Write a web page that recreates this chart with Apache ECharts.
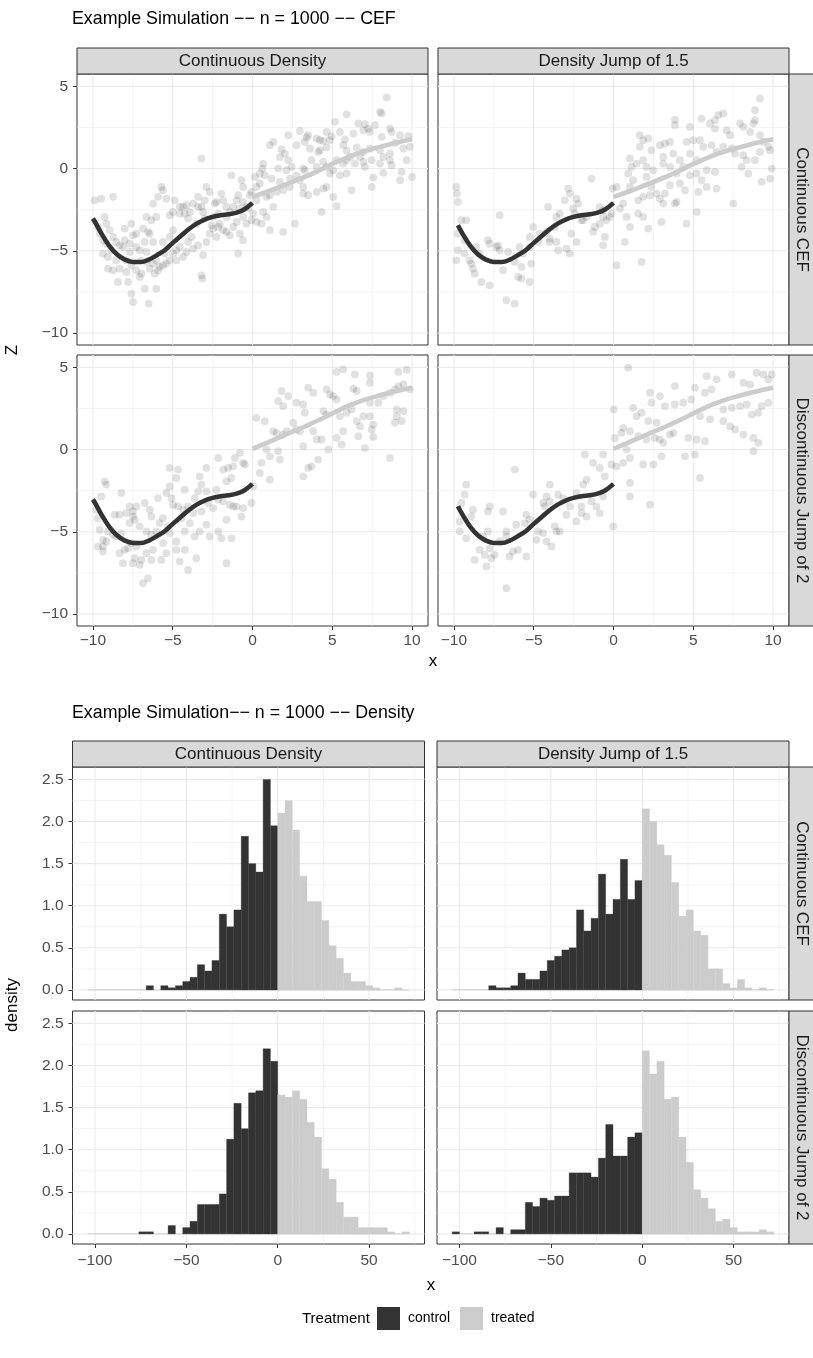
<!DOCTYPE html>
<html><head><meta charset="utf-8">
<script src="https://cdn.jsdelivr.net/npm/echarts@6/dist/echarts.min.js"></script>
<style>html,body{margin:0;padding:0;background:#fff}#c{width:813px;height:1358px}</style>
</head><body><div id="c"></div>
<script>
// ---------------- DATA ----------------
const colLabels = ['Continuous Density', 'Density Jump of 1.5'];
const rowLabels = ['Continuous CEF', 'Discontinuous Jump of 2'];
const title1 = 'Example Simulation \u2212\u2212 n = 1000 \u2212\u2212 CEF';
const title2 = 'Example Simulation\u2212\u2212 n = 1000 \u2212\u2212 Density';
const legendTitle = 'Treatment';
const groups = ['control', 'treated'];

const cefXTicks = [-10, -5, 0, 5, 10];
const cefXMinor = [-7.5, -2.5, 2.5, 7.5];
const cefYTicks = [-10, -5, 0, 5];
const cefYMinor = [-7.5, -2.5, 2.5];
const histXTicks = [-100, -50, 0, 50];
const histXMinor = [-75, -25, 25, 75];
const histYTicks = [0, 0.5, 1, 1.5, 2, 2.5];
const histYMinor = [0.25, 0.75, 1.25, 1.75, 2.25];

// CEF curves
const ctrlCurveX = [-10,-9.75,-9.5,-9,-8.5,-8,-7.5,-7,-6.5,-6,-5.5,-5,-4.5,-4,-3.5,-3,-2.5,-2,-1.5,-1,-0.5,0];
const ctrlCurveY = [-3.04,-3.45,-3.9,-4.67,-5.21,-5.54,-5.68,-5.68,-5.54,-5.27,-4.97,-4.52,-4.1,-3.69,-3.35,-3.1,-2.94,-2.84,-2.78,-2.68,-2.47,-2.09];
const trtCurveX = [0,1,2,3,4,5,6,7,8,9,10];
const trtCurveYCont = [-1.72,-1.38,-1.0,-0.62,-0.2,0.28,0.7,1.05,1.32,1.57,1.78];
const trtCurveYDisc = [0.04,0.45,0.88,1.28,1.72,2.2,2.65,3.02,3.3,3.55,3.76];

// scatter points [x, z]
const ptsContCEF_ContDens = [[8.41,4.32],[7.99,3.45],[8.1,3.35],[5.9,3.3],[5.17,2.84],[6.63,2.74],[7.05,2.7],[7.68,2.64],[2.97,2.29],[2.24,2.03],[3.39,1.89],[4.23,1.72],[4.44,1.68],[4.96,1.97],[5.48,2.23],[6.32,2.13],[6.95,2.33],[8.62,2.43],[8.72,2.23],[9.25,2.03],[9.77,1.97],[8.1,1.93],[1.09,1.42],[1.3,1.62],[1.82,1.16],[2.76,1.42],[3.6,1.22],[4.23,1.12],[4.64,1.28],[5.69,1.42],[5.9,1.08],[6.53,1.28],[6.95,1.01],[7.36,1.22],[7.99,1.12],[8.62,0.91],[9.67,0.51],[10,-0.51],[9.25,-0.71],[9.35,-0.2],[8.72,0.2],[8.2,-0.26],[7.57,-0.55],[7.47,-1.12],[7.05,0.1],[6.42,0.3],[6.21,-1.32],[5.48,-0.41],[5.06,-0.1],[4.44,-1.22],[4.64,-1.12],[5.06,-1.72],[5.27,-2.29],[4.33,-2.64],[3.49,-1.62],[3.18,0],[3.28,-0.1],[2.76,-0.41],[2.13,-0.1],[1.61,0],[1.19,-0.61],[0.67,0.3],[0.63,0],[0.77,-0.41],[0.46,-0.91],[0.25,-1.12],[1.51,-1.42],[1.92,-1.32],[2.34,-1.12],[1.09,-1.62],
[-0.17,-1.62],[-0.06,-1.42],[-0.59,-1.12],[-0.69,-0.71],[-1.32,-0.41],[-1.95,-1.52],[-2.36,-2.13],[-2.26,-2.03],[-2.89,-1.12],[-2.68,-1.42],[-3.41,-1.72],[-3.2,0.61],[-3.41,-2.33],[-3.93,-2.64],[-4.35,-2.33],[-4.87,-1.93],[-5.4,-1.83],[-5.71,-1.12],[-5.92,-1.72],[-6.23,-2.13],[-5.19,-2.84],[-4.98,-2.64],[-4.56,-2.74],[-4.04,-3.04],[-3.51,-3.35],[-2.99,-3.04],[-2.57,-3.45],[-2.05,-3.35],[-1.63,-2.94],[-1,-3.25],[-0.59,-2.94],[-0.06,-3.14],[0.25,-3.25],[0.56,-3.35],[1.09,-3.75],[1.92,-3.85],[2.66,-3.35],[-0.79,-3.96],[-0.59,-4.36],[-0.9,-5.17],[-1.42,-4.06],[-2.26,-4.16],[-2.15,-3.55],[-2.89,-4.46],[-3.1,-5.27],[-3.2,-6.49],[-3.14,-6.69],[-3.72,-4.87],[-4.14,-5.07],[-4.35,-5.38],[-4.77,-4.97],[-5.19,-4.16],[-4.98,-3.75],[-5.61,-4.46],[-6.44,-3.96],[-6.55,-3.85],[-6.23,-4.46],[-6.76,-4.46],[-7.28,-4.77],[-7.59,-3.35],[-8.01,-3.65],[-8.74,-1.72],[-9.48,-1.83],[-9.9,-1.93],[-9.16,-3.35],[-8.95,-3.75],[-9.37,-5.17],[-9.06,-5.38],[-8.33,-4.67],[-8.12,-4.77],[-8.54,-5.58],[-8.33,-6.09],[-7.91,-6.29],[-7.8,-6.9],[-8.43,-6.9],[-7.59,-7.61],[-7.49,-8.11],[-6.97,-6.39],[-6.76,-7.3],[-6.51,-8.21],[-6.03,-7.3],[-5.92,-6.19],[-5.82,-5.98],[-6.23,-5.78],[-5.4,-5.78],[-5.19,-5.58],[-6.65,-5.68],[-6.97,-5.58],[-6.03,-5.58],[-4.77,-5.58],[-9.06,-6.09],[-8.74,-6.19],
[3.28,1.62],[3.49,2.03],[4.02,1.83],[4.64,2.23],[4.85,1.72],[5.79,1.77],[7.36,2.23],[7.26,2.43],[8.93,1.56],[9.46,1.22],[9.87,1.32],[8.2,0.71],[7.47,0.51],[6.74,0.71],[6.95,0.41],[6.11,0.71],[5.27,0.51],[5.69,0.3],[4.44,0.41],[4.64,0.1],[4.85,-0.3],[3.7,0.51],[4.02,0.1],[2.24,0.51],[2.45,0.1],[1.72,0.71],[2.03,0.91],[0.46,-0.3],[0.15,-0.51],[2.97,-0.71],[3.18,-1.12],[1.72,-0.81],[2.34,-0.61],[4.02,-1.42],[3.18,-1.52],[5.9,-0.3],[5.9,0.5],[4.12,1.01],[7.99,0.3],[8.62,0.51],
[-5.61,-1.32],[-4.56,-2.33],[-4.25,-2.74],[-4.14,-2.23],[-3.72,-2.13],[-3.2,-2.33],[-2.99,-1.93],[-1.84,-1.93],[-1.63,-2.33],[-1.21,-2.33],[-1,-1.93],[-0.59,-2.03],[-0.38,-2.33],[-0.9,-1.62],[-3.1,-2.64],[-2.47,-2.94],[-2.15,-2.74],[-1.42,-2.64],[-0.79,-2.43],[-0.27,-2.43],[0.04,-2.74],[0.67,-2.64],[0.88,-2.94],[0.25,-1.93],[0.88,-1.72],[1.3,-2.33],
[-6.65,-2.94],[-6.34,-3.14],[-6.03,-2.94],[-6.86,-3.65],[-7.28,-3.96],[-7.49,-4.06],[-7.7,-4.57],[-8.01,-4.36],[-8.74,-4.16],[-8.54,-4.46],[-9.37,-4.36],[-9.16,-4.57],[-8.85,-4.97],[-9.58,-3.96],[-9.69,-3.55],[-9.27,-2.94],[-7.07,-4.97],[-6.65,-5.07],[-7.7,-5.07],[-7.91,-5.58],[-7.59,-5.88],[-7.28,-6.19],[-7.07,-6.59],[-6.44,-6.09],[-6.13,-6.39],[-5.61,-5.88],[-5.5,-5.17],[-4.98,-5.17],[-4.56,-4.77],[-4.04,-4.46],[-3.83,-4.16],[-3.41,-4.67],[-2.68,-3.96],[-2.47,-3.65],[-1.84,-3.75],[-1.63,-3.85],[-1.21,-3.55],[-0.38,-3.35]];

const ptsContCEF_DensJump = [[9.18,4.26],[8.87,3.55],[8.87,2.94],[8.77,2.74],[6.88,3.35],[6.57,3.25],[6.36,2.94],[5.52,3.04],[3.85,2.98],[3.85,2.64],[4.79,2.54],[6.05,2.74],[6.36,2.43],[7.09,2.33],[7.3,2.03],[7.93,2.74],[8.14,2.54],[8.56,2.23],[9.18,2.03],[9.39,1.62],[9.71,1.32],[9.81,1.12],[1.65,2.03],[1.86,1.72],[2.18,1.83],[1.65,1.32],[2.38,1.12],[2.91,1.42],[3.22,1.52],[3.54,1.62],[4.58,1.62],[5,1.72],[5.42,1.72],[5.63,1.32],[6.15,1.42],[6.46,1.01],[6.88,1.32],[7.41,1.22],[7.62,0.91],[8.14,0.81],[8.35,0.51],[8.87,0.51],[9.18,1.01],[9.92,0],[9.81,-0.61],[9.29,-0.81],[8.45,-0.3],[8.03,0.1],[7.51,-2.13],[6.36,-0.2],[5.84,-0.1],[5.52,-0.71],[5.84,-1.12],[5.31,-1.42],[6.46,-1.22],[5.21,-2.64],[4.58,-3.35],[4.16,-0.91],[4.48,-1.32],[3.85,-2.13],[3.95,-2.03],[3.12,-2.13],[2.91,-1.83],[3.54,-1.01],[3.22,-1.52],[2.07,-0.51],[2.38,-1.12],[2.7,-1.52],[1.86,-1.72],[1.55,-1.93],[2.28,-1.62],[1.55,-2.74],[1.86,-2.94],[0.82,-2.94],[1.03,-3.55],[0.71,-4.46],[0.19,-5.88],[1.76,-5.68],[2.18,-3.65],[3.01,-3.25],[0.4,-2.43],[0.61,-2.13],[1.03,-1.12],[1.23,-0.71],[0.92,-0.3],[1.13,0.1],[1.03,0.61],[1.44,0.3],[1.86,0.51],[2.07,0.1],[2.49,-0.1],[3.12,0.3],[3.54,0.1],[3.95,-0.3],[4.37,0.1],[4.79,-0.41],[5.21,-0.3],[3.12,0.71],[3.75,0.91],[4.16,0.51],[4.79,0.91],[5.21,0.51],[0.19,-1.12],[-0.06,-1.22],
[-1.38,-0.61],[-2.85,-1.22],[-2.74,-1.52],[-3.05,-1.93],[-2.32,-1.83],[-2.22,-2.13],[-2.53,-2.43],[-4.1,-2.33],[-3.37,-2.74],[-3.58,-2.94],[-2.01,-3.14],[-1.69,-2.94],[-1.17,-3.55],[-0.86,-3.35],[-0.65,-2.94],[-0.44,-3.14],[-0.23,-2.94],[-0.13,-2.74],[-0.54,-4.16],[-0.65,-4.67],[-1.28,-3.85],[-2.64,-3.96],[-2.32,-4.46],[-2.95,-4.87],[-3.47,-4.97],[-3.58,-4.46],[-4,-4.46],[-3.68,-3.55],[-4.62,-3.96],[-4.73,-4.46],[-5.04,-3.55],[-5.25,-4.16],[-5.15,-5.78],[-5.67,-5.17],[-5.77,-5.98],[-5.25,-6.9],[-5.98,-6.59],[-5.77,-6.69],[-6.19,-5.68],[-6.61,-5.07],[-6.72,-8.01],[-6.19,-8.21],[-6.92,-6.19],[-7.13,-4.97],[-7.24,-4.67],[-7.87,-4.36],[-7.76,-4.57],[-7.13,-2.84],[-8.28,-6.9],[-7.76,-7.1],[-8.81,-6.09],[-8.7,-6.39],[-9.02,-5.58],[-8.91,-5.78],[-9.33,-5.17],[-9.85,-5.58],[-9.75,-4.97],[-9.85,-1.12],[-9.81,-1.52],[-9.75,-2.03],[-9.75,-3.96],[-9.33,-4.36],[-9.23,-3.14],[-9.54,-3.14],[-8.39,-5.17],[-8.6,-4.77],[-7.34,-4.77],[-5.88,-4.77],[-5.25,-4.77],[-4.2,-3.85],[-4,-4.26],[-2.74,-5.17],[-1.9,-3.14],[-2.43,-2.74],[-0.86,-2.33],[-0.65,-2.54]];

const ptsDiscCEF_ContDens = [[5.69,4.88],[5.27,4.72],[6.42,4.57],[7.36,4.51],[9.14,4.72],[9.67,4.84],[7.36,4.07],[6.32,3.7],[6.53,3.56],[4.64,3.66],[4.85,3.35],[5.06,3.25],[5.27,3.05],[3.49,3.76],[3.81,3.46],[1.82,3.56],[2.24,3.25],[2.76,2.85],[1.61,2.95],[1.92,2.64],[3.18,2.74],[3.28,2.24],[4.44,2.34],[4.64,2.13],[5.48,2.03],[5.9,2.24],[6.21,2.44],[6.53,1.73],[6.95,2.03],[7.36,2.03],[7.57,1.52],[7.36,2.85],[7.89,2.85],[8.2,3.25],[8.62,3.46],[8.93,3.66],[9.14,3.86],[9.46,3.96],[9.87,3.66],[9.04,2.44],[9.04,2.03],[9.46,2.34],[9.35,1.73],[8.93,1.63],[8.62,-0.51],[7.05,0.1],[7.57,0.77],[7.47,1.22],[6.63,0.81],[6.74,1.42],[5.69,1.12],[5.59,0.3],[5.27,0.71],[4.75,0],[4.02,0.61],[4.12,-0.61],[3.81,1.12],[4.33,0.61],[3.7,-1.02],[3.49,-1.12],[3.18,0.2],[3.18,-1.63],[2.55,1.63],[2.76,1.22],[2.97,1.12],[2.13,1.12],[1.92,0.91],[1.3,1.12],[1.51,1.02],[0.77,1.73],[0.25,1.93],[0.88,0],[1.09,-0.41],[1.72,-0.61],[1.61,-0.1],[0.56,-0.81],[0.46,-1.42],[1.09,-1.83],[0.04,-2.24],
[-0.06,-3.25],[-0.48,-0.91],[-0.59,-0.81],[-0.79,-0.2],[-1.11,-0.51],[-2.15,-0.51],[-1.84,-1.22],[-1.53,-1.12],[-1.21,-1.02],[-1.32,-1.73],[-1.63,-1.93],[-2.89,-1.12],[-3.31,-1.63],[-3.2,-2.13],[-2.89,-2.54],[-2.26,-2.44],[-2.15,-3.05],[-1.84,-3.15],[-1.42,-3.35],[-1.21,-3.46],[-1,-3.46],[-0.59,-3.56],[-0.69,-4.07],[-1.63,-4.27],[-1.32,-5.39],[-2.15,-4.98],[-1.95,-5.39],[-2.68,-5.28],[-2.89,-4.57],[-3.31,-4.98],[-3.62,-5.28],[-4.25,-4.98],[-3.93,-4.47],[-4.46,-4.17],[-4.98,-3.35],[-4.67,-3.46],[-4.35,-3.66],[-4.25,-2.44],[-5.19,-1.12],[-4.67,-1.22],[-5.19,-2.24],[-4.77,-1.73],[-5.4,-2.64],[-5.08,-2.95],[-5.92,-2.95],[-6.44,-3.66],[-6.76,-3.25],[-6.34,-4.07],[-5.82,-4.47],[-5.61,-4.17],[-5.29,-4.67],[-5.19,-5.08],[-4.77,-5.59],[-5.61,-5.69],[-5.4,-6.3],[-5.71,-6.71],[-4.56,-6.81],[-4.04,-7.32],[-3.52,-6.61],[-4.25,-6.1],[-4.77,-6.1],[-1.63,-6.91],[-6.23,-6.1],[-6.34,-6.71],[-6.65,-6.3],[-6.97,-6.71],[-7.38,-6.61],[-7.49,-6.91],[-7.07,-7.01],[-6.86,-8.13],[-6.55,-7.83],[-8.12,-6.91],[-8.01,-6.1],[-8.33,-6.3],[-7.8,-6],[-7.59,-5.69],[-7.28,-5.89],[-9.37,-6.2],[-9.69,-5.89],[-9.37,-5.89],[-9.16,-5.59],[-9.58,-4.88],[-9.37,-5.49],[-9.06,-4.98],[-8.74,-5.18],[-8.54,-5.28],[-8.22,-5.08],[-8.64,-3.96],[-8.33,-3.96],[-7.91,-3.86],[-7.49,-3.76],[-8.22,-2.64],[-9.27,-1.93],[-9.16,-2.13],[-9.48,-2.85],[-9.79,-3.66],[-9.69,-4.17],[-7.7,-4.47],[-7.38,-4.27],[-7.07,-4.67],[-6.65,-4.98],[-6.34,-5.18],[-6.03,-4.98],[-7.7,-3.46],[-7.28,-3.46],[-7.49,-4.07],[-4.04,-3.46],[-3.72,-3.86],[-3.2,-3.76],[-3.62,-2.95],[-3.41,-2.54],[-2.78,-3.25],[-2.47,-3.56]];

const ptsDiscCEF_DensJump = [[0.92,4.98],[5.84,4.47],[6.46,4.27],[7.41,4.57],[8.97,4.67],[9.39,4.57],[9.71,4.27],[9.92,4.57],[8.14,4.07],[8.56,3.96],[3.85,3.86],[5.1,3.76],[5.73,3.46],[6.15,3.66],[2.28,3.46],[2.91,3.25],[2.38,2.85],[3.22,2.64],[3.85,2.74],[4.37,2.85],[4.87,3.05],[1.23,2.54],[1.76,2.24],[1.44,2.03],[0.02,2.44],[0.61,1.32],[0.5,1.02],[0.08,0.71],[1.03,1.12],[1.55,0.81],[2.07,0.61],[2.18,1.73],[2.7,1.63],[2.59,0.71],[2.91,0.61],[3.12,0.41],[3.54,0.91],[3.75,1.02],[4.69,0.71],[5.21,0.61],[5.73,0.51],[5.42,2.03],[6.05,1.83],[6.88,1.73],[7.3,1.42],[6.88,2.44],[7.41,2.54],[7.93,2.64],[8.35,2.74],[8.66,2.13],[9.08,2.24],[9.29,2.64],[9.71,2.85],[7.62,1.22],[8.14,0.91],[8.77,0.71],[9.08,0.41],[8.77,-0.1],[4.48,-0.41],[5.1,-0.3],[5.42,-1.73],[3.01,-0.41],[2.49,-0.91],[1.86,-0.91],[1.03,-0.51],[0.82,0],[0.61,-0.81],[0.19,-1.02],[1.03,-2.03],[1.03,-2.85],[2.28,-3.35],
[-0.13,-0.91],[-0.54,-1.63],[-0.02,-4.67],[-0.65,-0.3],[-1.8,-0.3],[-1.28,-0.81],[-0.86,-1.12],[-1.69,-1.83],[-1.9,-2.13],[-2.32,-2.64],[-0.65,-2.85],[-0.86,-3.86],[-1.07,-3.46],[-1.38,-3.15],[-2.01,-3.46],[-2.32,-4.37],[-2.74,-3.46],[-2.95,-3.96],[-3.16,-2.95],[-3.47,-2.74],[-3.99,-2.13],[-4.41,-3.25],[-4.31,-3.46],[-3.58,-4.98],[-3.37,-4.98],[-3.68,-4.67],[-4.2,-5.59],[-3.89,-5.89],[-5.04,-2.74],[-5.25,-4.27],[-5.46,-3.96],[-4.83,-5.49],[-5.46,-6.5],[-5.98,-6.1],[-6.51,-6.5],[-6.3,-6.2],[-6.19,-1.22],[-6.92,-3.76],[-6.72,-4.98],[-7.13,-5.59],[-6.72,-8.43],[-7.76,-3.46],[-7.87,-3.76],[-7.45,-6.4],[-7.66,-6.61],[-7.97,-7.11],[-8.07,-6.4],[-8.7,-6.71],[-8.39,-6.1],[-7.87,-4.98],[-8.18,-5.28],[-9.23,-2.13],[-9.33,-2.74],[-9.54,-3.25],[-9.64,-4.37],[-9.64,-4.98],[-9.23,-5.39],[-8.91,-4.07],[-8.81,-3.66],[-7.76,-6.0],[-6.72,-5.28],[-6.1,-4.57],[-5.56,-4.47],[-4.73,-4.98],[-4.41,-5.08],[-2.01,-3.86],[-1.69,-4.07],[-4.2,-2.85],[-4,-3.15]];

// histograms: bins of width 4; control from -104 to 0 (26 bins), treated from 0 to 72 (18 bins)
const binWidth = 4;
const ctrlBinStart = -104;
const trtBinStart = 0;
const histCtrl_ContCEF_ContDens = [0,0,0,0,0,0,0,0,0.05,0,0.05,0.025,0.05,0.1,0.15,0.3,0.225,0.35,0.9,0.75,0.95,1.825,1.5,1.4,2.5,1.95];
const histTrt_ContCEF_ContDens  = [2.1,2.25,1.9,1.35,1.05,1.05,0.825,0.525,0.375,0.2,0.1,0.1,0.05,0.025,0,0,0.025,0];
const histCtrl_ContCEF_DensJump = [0,0,0,0,0,0.05,0.025,0.025,0.05,0.2,0.125,0.125,0.225,0.35,0.4,0.475,0.5,0.95,0.7,0.85,1.375,0.9,1.075,1.55,1.075,1.3];
const histTrt_ContCEF_DensJump  = [2.15,2.0,1.725,1.6,1.275,0.875,0.95,0.7,0.65,0.25,0.25,0.075,0.025,0.125,0.025,0,0.025,0];
const histCtrl_DiscCEF_ContDens = [0,0,0,0,0,0,0,0.025,0.025,0,0,0.1,0,0.075,0.15,0.35,0.35,0.35,0.475,1.125,1.55,1.25,1.675,1.7,2.2,2.05];
const histTrt_DiscCEF_ContDens  = [1.65,1.625,1.7,1.6,1.325,1.15,0.775,0.65,0.375,0.2,0.2,0.075,0.075,0.075,0.075,0.025,0,0.025];
const histCtrl_DiscCEF_DensJump = [0.025,0,0,0.025,0.025,0,0.075,0,0.05,0.05,0.375,0.325,0.425,0.4,0.45,0.45,0.725,0.725,0.725,0.675,0.9,1.3,0.925,0.925,1.15,1.2];
const histTrt_DiscCEF_DensJump  = [2.175,1.9,2.05,1.6,1.625,1.15,0.85,0.525,0.425,0.3,0.15,0.175,0.075,0.025,0.025,0.025,0.05,0.025];

// ---------------- STYLE / LAYOUT ----------------
const FONT = '"Liberation Sans", Arial, Helvetica, sans-serif';
const DARK = '#333333', LIGHT = '#cccccc';
const GRIDC = '#ebebeb';
const cefXRange = [-11, 11], cefYRange = [-10.73, 5.75];
const histXRange = [-112.3, 80.3], histYRange = [-0.12, 2.647];

const grids = [], xAxes = [], yAxes = [], series = [], graphics = [];
const minusFmt = v => (v < 0 ? '\u2212' + Math.abs(v) : String(v));
const oneDec = v => v.toFixed(1);

function gridLineSeries(idx, xMaj, xMin, yMaj, yMin) {
  const data = [];
  xMaj.forEach(v => data.push([v, 0]));
  xMin.forEach(v => data.push([v, 1]));
  yMaj.forEach(v => data.push([v, 2]));
  yMin.forEach(v => data.push([v, 3]));
  return {
    type: 'custom', xAxisIndex: idx, yAxisIndex: idx, silent: true, z: 1, data,
    renderItem: (params, api) => {
      const cs = params.coordSys;
      const v = api.value(0), kind = api.value(1);
      const major = kind % 2 === 0;
      let shape;
      if (kind < 2) {
        const p = api.coord([v, 0]);
        shape = { x1: p[0], y1: cs.y, x2: p[0], y2: cs.y + cs.height };
      } else {
        const p = api.coord([0, v]);
        shape = { x1: cs.x, y1: p[1], x2: cs.x + cs.width, y2: p[1] };
      }
      return { type: 'line', shape, style: { stroke: GRIDC, lineWidth: major ? 1.1 : 0.55 } };
    }
  };
}

function addAxes(idx, p, xr, yr, xt, yt, xf, yf, xMargin) {
  grids.push({ left: p.left, top: p.top, width: p.w, height: p.h, show: true,
    borderColor: DARK, borderWidth: 1, backgroundColor: '#ffffff' });
  const lab = { color: '#4d4d4d', fontSize: 15.5, fontFamily: FONT };
  xAxes.push({ type: 'value', gridIndex: idx, min: xr[0], max: xr[1], position: 'bottom',
    axisLine: { show: false, onZero: false }, splitLine: { show: false },
    axisTick: { show: p.showX, length: 4, lineStyle: { color: DARK }, customValues: xt },
    axisLabel: Object.assign({ show: p.showX, customValues: xt, formatter: xf, margin: xMargin }, lab) });
  yAxes.push({ type: 'value', gridIndex: idx, min: yr[0], max: yr[1], position: 'left',
    axisLine: { show: false, onZero: false }, splitLine: { show: false },
    axisTick: { show: p.showY, length: 4, lineStyle: { color: DARK }, customValues: yt },
    axisLabel: Object.assign({ show: p.showY, customValues: yt, formatter: yf, margin: 9 }, lab) });
}

function strip(x, y, w, h, text, vertical) {
  graphics.push({ type: 'rect', shape: { x, y, width: w, height: h },
    style: { fill: '#d9d9d9', stroke: DARK, lineWidth: 1 }, z: 10 });
  graphics.push({ type: 'text', x: x + w / 2, y: y + h / 2, rotation: vertical ? -Math.PI / 2 : 0, z: 11,
    style: { text, fill: '#1a1a1a', fontSize: 17, fontFamily: FONT, align: 'center', verticalAlign: 'middle' } });
}

// ---- CEF panels ----
const cefPanels = [
  { left: 77, top: 74, w: 351, h: 271, pts: ptsContCEF_ContDens, trtY: trtCurveYCont, from: 0, showX: false, showY: true },
  { left: 438, top: 74, w: 351, h: 271, pts: ptsContCEF_DensJump, trtY: trtCurveYCont, from: 1, showX: false, showY: false },
  { left: 77, top: 355, w: 351, h: 271, pts: ptsDiscCEF_ContDens, trtY: trtCurveYDisc, from: 0, showX: true, showY: true },
  { left: 438, top: 355, w: 351, h: 271, pts: ptsDiscCEF_DensJump, trtY: trtCurveYDisc, from: 1, showX: true, showY: false }
];
cefPanels.forEach((p, i) => {
  addAxes(i, p, cefXRange, cefYRange, cefXTicks, cefYTicks, minusFmt, minusFmt, 7);
  series.push(gridLineSeries(i, cefXTicks, cefXMinor, cefYTicks, cefYMinor));
  series.push({ type: 'scatter', xAxisIndex: i, yAxisIndex: i, data: p.pts, symbolSize: 7.8, silent: true, z: 2,
    itemStyle: { color: 'rgba(0,0,0,0.15)', borderWidth: 0 } });
  series.push({ type: 'line', xAxisIndex: i, yAxisIndex: i, silent: true, z: 3, showSymbol: false, smooth: 0.4,
    data: ctrlCurveX.slice(p.from).map((x, k) => [x, ctrlCurveY[k + p.from]]),
    lineStyle: { color: DARK, width: 4.6, cap: 'butt' } });
  series.push({ type: 'line', xAxisIndex: i, yAxisIndex: i, silent: true, z: 3, showSymbol: false, smooth: 0.4,
    data: trtCurveX.map((x, k) => [x, p.trtY[k]]),
    lineStyle: { color: LIGHT, width: 4.6, cap: 'butt' } });
});

// ---- Histogram panels ----
const histPanels = [
  { left: 72.5, top: 767, w: 352, h: 233, ctrl: histCtrl_ContCEF_ContDens, trt: histTrt_ContCEF_ContDens, showX: false, showY: true },
  { left: 437, top: 767, w: 352, h: 233, ctrl: histCtrl_ContCEF_DensJump, trt: histTrt_ContCEF_DensJump, showX: false, showY: false },
  { left: 72.5, top: 1011, w: 352, h: 233, ctrl: histCtrl_DiscCEF_ContDens, trt: histTrt_DiscCEF_ContDens, showX: true, showY: true },
  { left: 437, top: 1011, w: 352, h: 233, ctrl: histCtrl_DiscCEF_DensJump, trt: histTrt_DiscCEF_DensJump, showX: true, showY: false }
];
function binData(start, heights) {
  return heights.map((h, k) => [start + k * binWidth, start + (k + 1) * binWidth, h]);
}
function barSeries(idx, name, color, data) {
  return { type: 'custom', name, xAxisIndex: idx, yAxisIndex: idx, silent: true, z: 3, data,
    itemStyle: { color }, encode: { x: [0, 1], y: 2 },
    renderItem: (params, api) => {
      const h = api.value(2);
      if (!(h > 0)) return null;
      const p0 = api.coord([api.value(0), h]);
      const p1 = api.coord([api.value(1), 0]);
      return { type: 'rect', shape: { x: p0[0], y: p0[1], width: p1[0] - p0[0], height: p1[1] - p0[1] },
        style: { fill: color, stroke: color, lineWidth: 0.3 } };
    } };
}
histPanels.forEach((p, j) => {
  const i = j + 4;
  addAxes(i, p, histXRange, histYRange, histXTicks, histYTicks, minusFmt, oneDec, 9);
  series.push(gridLineSeries(i, histXTicks, histXMinor, histYTicks, histYMinor));
  const ctrlData = binData(ctrlBinStart, p.ctrl);
  const trtData = binData(trtBinStart, p.trt);
  series.push({ type: 'line', xAxisIndex: i, yAxisIndex: i, silent: true, z: 2, showSymbol: false,
    data: [[ctrlData[0][0], 0], [trtData[trtData.length - 1][1], 0]], lineStyle: { color: '#cfcfcf', width: 1 } });
  series.push(barSeries(i, groups[0], DARK, ctrlData));
  series.push(barSeries(i, groups[1], LIGHT, trtData));
});

// ---- strips ----
strip(77, 48, 351, 26, colLabels[0], false);
strip(438, 48, 351, 26, colLabels[1], false);
strip(789, 74, 26, 271, rowLabels[0], true);
strip(789, 355, 26, 271, rowLabels[1], true);
strip(72.5, 741, 352, 26, colLabels[0], false);
strip(437, 741, 352, 26, colLabels[1], false);
strip(789, 767, 26, 233, rowLabels[0], true);
strip(789, 1011, 26, 233, rowLabels[1], true);

// ---- titles and axis titles ----
function txt(x, y, text, size, rot, align) {
  graphics.push({ type: 'text', x, y, rotation: rot || 0, z: 11,
    style: { text, fill: '#000000', fontSize: size, fontFamily: FONT, align: align || 'center', verticalAlign: 'middle' } });
}
txt(72, 19, title1, 17.8, 0, 'left');
txt(72, 713, title2, 17.8, 0, 'left');
txt(433, 661, 'x', 17);
txt(12, 350, 'Z', 17, Math.PI / 2);
txt(431, 1285, 'x', 17);
txt(12, 1005, 'density', 17, Math.PI / 2);
txt(302, 1319, legendTitle, 15, 0, 'left');

const option = {
  animation: false,
  backgroundColor: '#ffffff',
  textStyle: { fontFamily: FONT },
  grid: grids, xAxis: xAxes, yAxis: yAxes, series, graphic: graphics,
  legend: {
    left: 377, top: 1307, orient: 'horizontal', icon: 'rect', itemWidth: 23, itemHeight: 23, itemGap: 10,
    selectedMode: false, padding: 0,
    data: [{ name: groups[0], itemStyle: { color: DARK } }, { name: groups[1], itemStyle: { color: LIGHT } }],
    textStyle: { fontSize: 14, color: '#000000', fontFamily: FONT, padding: [0, 0, 0, 3] }
  }
};
const chart = echarts.init(document.getElementById('c'), null, { renderer: 'canvas' });
chart.setOption(option);
</script></body></html>
